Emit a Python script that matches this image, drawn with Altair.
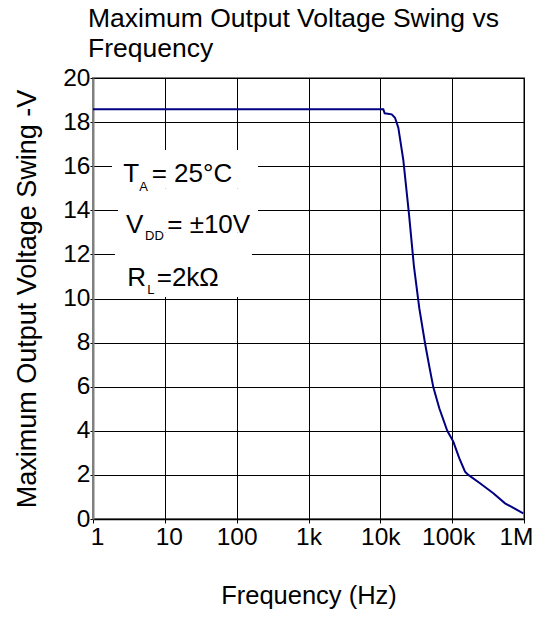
import altair as alt
import pandas as pd

# Curve data (frequency in Hz, max output voltage swing in V)
freq = [1, 10, 100, 1000, 10000, 11000, 11500, 14400, 16000, 17800, 20900, 25000,
        29400, 34900, 41900, 48100, 54700, 66200, 85500, 103700, 125900, 151000,
        168000, 244000, 374000, 545000, 977000]
volt = [18.58, 18.58, 18.58, 18.58, 18.58, 18.58, 18.4, 18.35, 18.2, 17.75, 16.28, 13.86,
        11.44, 9.55, 7.97, 6.91, 5.97, 5.02, 4.0, 3.51, 2.75, 2.15,
        2.0, 1.62, 1.17, 0.71, 0.26]

tick_vals = [1, 10, 100, 1000, 10000, 100000, 1000000]
tick_labels = ["1", "10", "100", "1k", "10k", "100k", "1M"]
tick_shift = [4, 4, 0, 0, 0, -4, -8]

# Annotation texts
ann_text = ["T", "A", "= 25\u00b0C", "V", "DD", "= \u00b110V", "R", "L", "=2k\u03a9"]
ann_x = [2.64, 4.41, 6.56, 2.88, 5.30, 10.8, 3.00, 5.70, 7.71]
ann_y = [15.30, 14.89, 15.30, 12.96, 12.65, 12.96, 10.58, 10.20, 10.58]
ann_size = [26, 13, 26, 26, 13, 26, 26, 13, 26]

# White boxes behind annotation rows
box_x = [1.84, 2.23, 2.02]
box_x2 = [198, 198, 163]
box_y = [16.73, 15.0, 13.0]
box_y2 = [15.0, 13.0, 10.07]

df = pd.DataFrame({"f": freq, "v": volt})
ann = pd.DataFrame({"f": ann_x, "v": ann_y, "t": ann_text, "s": ann_size})
boxes = pd.DataFrame({"x": box_x, "x2": box_x2, "y": box_y, "y2": box_y2})

label_expr = " : ".join(
    f"datum.value == {v} ? '{l}'" for v, l in zip(tick_vals, tick_labels)
) + " : ''"

label_offset = {
    "condition": [
        {"test": f"datum.value == {v}", "value": s}
        for v, s in zip(tick_vals, tick_shift) if s != 0
    ],
    "value": 0,
}

FONT = "Liberation Sans"

xscale = alt.Scale(type="log", domain=[1, 1000000])
yscale = alt.Scale(domain=[0, 20])

line = alt.Chart(df).mark_line(color="#000080", strokeWidth=2).encode(
    x=alt.X("f:Q", scale=xscale,
            axis=alt.Axis(values=tick_vals, labelExpr=label_expr, title="Frequency (Hz)",
                          grid=True, gridColor="#000000", gridWidth=1,
                          tickSize=4, labelPadding=2, titlePadding=35,
                          labelOffset=label_offset, labelFlush=False,
                          labelFontSize=24.5, titleFontSize=25.5,
                          domainColor="#000000", domainWidth=1.5)),
    y=alt.Y("v:Q", scale=yscale,
            axis=alt.Axis(values=list(range(0, 21, 2)), title="Maximum Output Voltage Swing -V",
                          grid=True, gridColor="#000000", gridWidth=1,
                          tickSize=3, labelPadding=0, titlePadding=21,
                          labelFontSize=24.5, titleFontSize=27,
                          domainColor="#808080", domainWidth=2)),
)

rects = alt.Chart(boxes).mark_rect(color="white").encode(
    x=alt.X("x:Q", scale=xscale), x2="x2:Q",
    y=alt.Y("y:Q", scale=yscale), y2="y2:Q",
)

texts = alt.Chart(ann).mark_text(align="left", baseline="alphabetic",
                                 font=FONT, color="black").encode(
    x=alt.X("f:Q", scale=xscale),
    y=alt.Y("v:Q", scale=yscale),
    text="t:N",
    size=alt.Size("s:Q", scale=None, legend=None),
)

chart = alt.layer(rects, line, texts).properties(
    width=431, height=441,
    title=alt.TitleParams(
        text=["Maximum Output Voltage Swing vs", "Frequency"],
        anchor="start", frame="group", dx=-5, offset=3,
        fontSize=26.5, fontWeight="normal", font=FONT,
        lineHeight=30, color="black",
    ),
    autosize=alt.AutoSizeParams(type="none"),
    padding={"left": 85, "top": 70, "right": 12, "bottom": 92},
).configure_view(
    stroke="#808080", strokeWidth=2
).configure_axis(
    labelFont=FONT, titleFont=FONT,
    titleFontWeight="normal",
    labelColor="black", titleColor="black", tickColor="#000000",
)

chart.save("out.html", embed_options={"renderer": "svg", "actions": False})
